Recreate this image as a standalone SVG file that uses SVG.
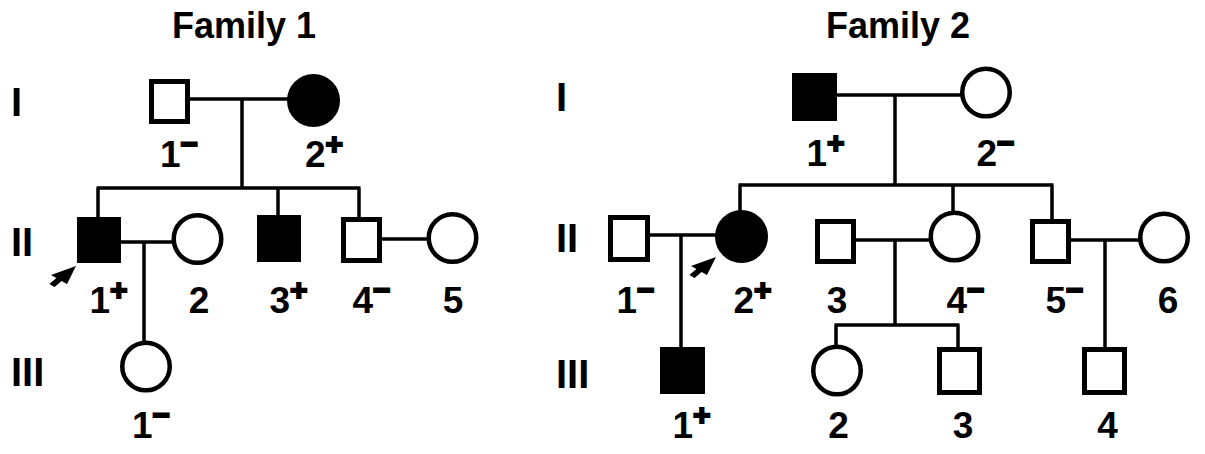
<svg xmlns="http://www.w3.org/2000/svg" width="1205" height="454" viewBox="0 0 1205 454">
<style>
text{font-family:"Liberation Sans",Arial,sans-serif;font-weight:bold;fill:#000}
.title{font-size:36px;text-anchor:middle}
.gen{font-size:40px}
.lab{font-size:37px;text-anchor:middle}
.sup{font-size:30px;stroke:#000;stroke-width:2}
.sq{fill:#fff;stroke:#000;stroke-width:5}
.ci{fill:#fff;stroke:#000;stroke-width:4.5}
.aff{fill:#000}
.ln{stroke:#000;stroke-width:3.5;fill:none}
.arr{fill:#000}
</style>
<rect width="1205" height="454" fill="#fff"/>

<g id="titles">
<text class="title" x="244" y="38">Family 1</text>
<text class="title" x="898" y="38">Family 2</text>
</g>
<g id="generations">
<text class="gen" x="11" y="116">I</text>
<text class="gen" x="11" y="256">II</text>
<text class="gen" x="11" y="386">III</text>
<text class="gen" x="556" y="111">I</text>
<text class="gen" x="556" y="252">II</text>
<text class="gen" x="556" y="388">III</text>
</g>

<g id="connectors">
<!-- Family 1 -->
<path class="ln" d="M190 99H288 M242 99V188 M96.5 188H360.5 M98 188V218 M278 188V216 M359 188V218"/>
<path class="ln" d="M121 242H173 M144 242V341"/>
<path class="ln" d="M382 239H428"/>
<!-- Family 2 -->
<path class="ln" d="M837 95H961 M895 95V185 M738.5 185H1053.5 M740 185V211 M953 185V211 M1052 185V220"/>
<path class="ln" d="M650 235H716 M681 235V348"/>
<path class="ln" d="M856 240H930 M895 240V325 M834.5 325H959.5 M836 325V345 M958 325V348"/>
<path class="ln" d="M1071 240H1139 M1105 240V348"/>
</g>

<g id="f1-I-1"><rect class="sq" x="151.5" y="81.5" width="36" height="40"/><text class="lab" x="179" y="167">1<tspan class="sup" dy="-13.5">−</tspan></text></g>
<g id="f1-I-2"><circle class="ci aff" cx="313.5" cy="100.5" r="24.25"/><text class="lab" x="324" y="167">2<tspan class="sup" dy="-13.5">+</tspan></text></g>
<g id="f1-II-1"><rect class="sq aff" x="79.5" y="219.5" width="39" height="41"/><text class="lab" x="108.5" y="313">1<tspan class="sup" dy="-13.5">+</tspan></text></g>
<g id="f1-II-2"><circle class="ci" cx="197.5" cy="239" r="23.75"/><text class="lab" x="199" y="313">2</text></g>
<g id="f1-II-3"><rect class="sq aff" x="259.5" y="217.5" width="39" height="42"/><text class="lab" x="288.5" y="313">3<tspan class="sup" dy="-13.5">+</tspan></text></g>
<g id="f1-II-4"><rect class="sq" x="343.5" y="219.5" width="36" height="41"/><text class="lab" x="371.5" y="313">4<tspan class="sup" dy="-13.5">−</tspan></text></g>
<g id="f1-II-5"><circle class="ci" cx="452.5" cy="238" r="23.75"/><text class="lab" x="453" y="313">5</text></g>
<g id="f1-III-1"><circle class="ci" cx="146" cy="366.5" r="23.75"/><text class="lab" x="151" y="438">1<tspan class="sup" dy="-13.5">−</tspan></text></g>
<g id="f1-proband"><polygon class="arr" points="76,266 67,284 61.6,281 54.6,287 49.4,284 56.4,278 51,275"/></g>

<g id="f2-I-1"><rect class="sq aff" x="794.5" y="75.5" width="40" height="43"/><text class="lab" x="825.5" y="166">1<tspan class="sup" dy="-13.5">+</tspan></text></g>
<g id="f2-I-2"><circle class="ci" cx="986" cy="92.5" r="23.75"/><text class="lab" x="995.5" y="166">2<tspan class="sup" dy="-13.5">−</tspan></text></g>
<g id="f2-II-1"><rect class="sq" x="610.5" y="217.5" width="37" height="42"/><text class="lab" x="635.5" y="313">1<tspan class="sup" dy="-13.5">−</tspan></text></g>
<g id="f2-II-2"><circle class="ci aff" cx="741.5" cy="236.5" r="24.25"/><text class="lab" x="752.5" y="313">2<tspan class="sup" dy="-13.5">+</tspan></text></g>
<g id="f2-II-3"><rect class="sq" x="817.5" y="221.5" width="36" height="40"/><text class="lab" x="837" y="313">3</text></g>
<g id="f2-II-4"><circle class="ci" cx="954.5" cy="236.5" r="23.75"/><text class="lab" x="965.5" y="313">4<tspan class="sup" dy="-13.5">−</tspan></text></g>
<g id="f2-II-5"><rect class="sq" x="1032.5" y="221.5" width="36" height="40"/><text class="lab" x="1064.5" y="313">5<tspan class="sup" dy="-13.5">−</tspan></text></g>
<g id="f2-II-6"><circle class="ci" cx="1164" cy="237.5" r="23.75"/><text class="lab" x="1168" y="313">6</text></g>
<g id="f2-III-1"><rect class="sq aff" x="662.5" y="349.5" width="40" height="42"/><text class="lab" x="691.5" y="438">1<tspan class="sup" dy="-13.5">+</tspan></text></g>
<g id="f2-III-2"><circle class="ci" cx="837" cy="370.5" r="23.75"/><text class="lab" x="838.5" y="438">2</text></g>
<g id="f2-III-3"><rect class="sq" x="939.5" y="349.5" width="40" height="43"/><text class="lab" x="963" y="438">3</text></g>
<g id="f2-III-4"><rect class="sq" x="1084.5" y="349.5" width="40" height="43"/><text class="lab" x="1107.5" y="438">4</text></g>
<g id="f2-proband"><polygon class="arr" points="716,257 707,275 701.6,272 694.6,278 689.4,275 696.4,269 691,266"/></g>
</svg>
